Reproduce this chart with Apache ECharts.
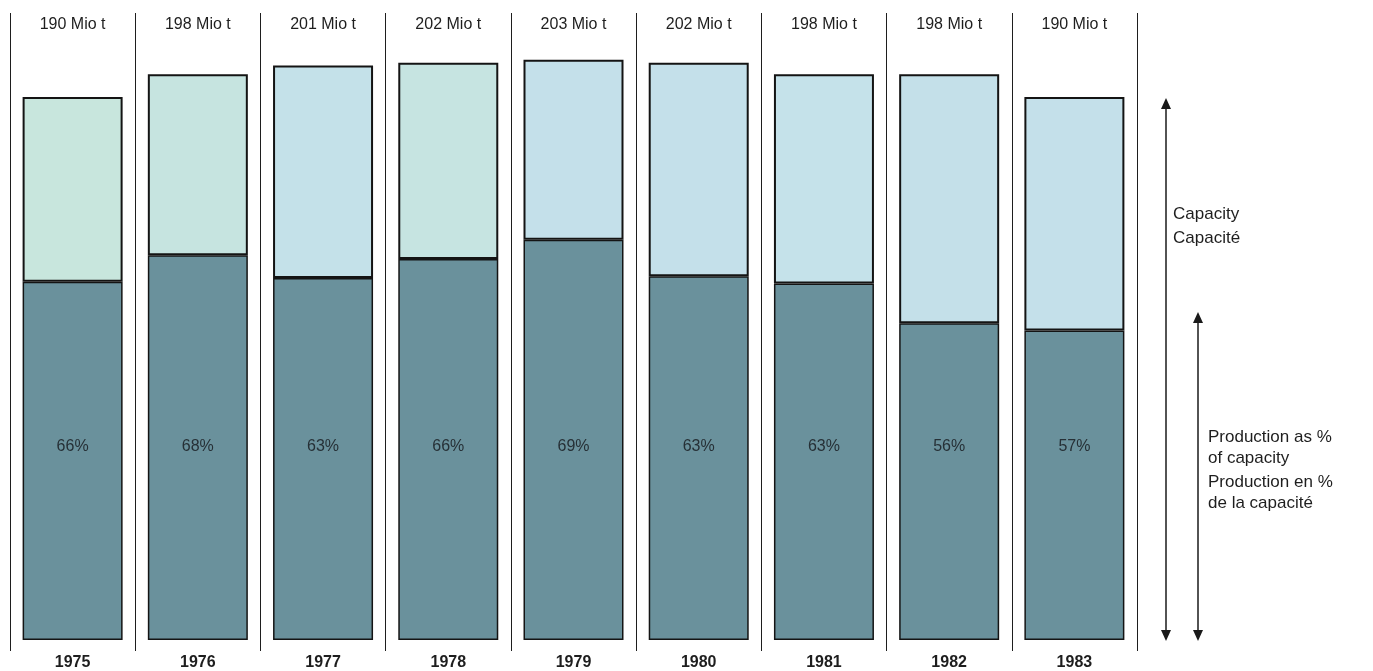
<!DOCTYPE html>
<html>
<head>
<meta charset="utf-8">
<title>Capacity and production</title>
<script src="https://cdn.jsdelivr.net/npm/echarts@6/dist/echarts.min.js"></script>
<style>
  html, body { margin: 0; padding: 0; background: #ffffff; }
  #chart { width: 1373px; height: 671px; }
</style>
</head>
<body>
<div id="chart"></div>
<script>
// Years shown along the bottom
var years = ['1975', '1976', '1977', '1978', '1979', '1980', '1981', '1982', '1983'];
// Capacity in million tonnes (labels above each column)
var capacity = [190, 198, 201, 202, 203, 202, 198, 198, 190];
// Production as percentage of capacity
var utilisation = [66, 68, 63, 66, 69, 63, 63, 56, 57];

// Split each capacity bar into produced part and unused part
var produced = capacity.map(function (c, i) { return c * utilisation[i] / 100; });
var unused = capacity.map(function (c, i) { return c - produced[i]; });
var capacityLabels = capacity.map(function (c) { return c + ' Mio t'; });

// Light tints of the upper (unused) segments
var upperTints = ['#c8e6dd', '#c6e4e0', '#c4e1e9', '#c6e4e1', '#c4e0ea', '#c4e0ea', '#c5e2ea', '#c4e0e9', '#c4e0ea'];

var FONT = '"Liberation Sans", Arial, sans-serif';
var chart = echarts.init(document.getElementById('chart'));

chart.setOption({
  backgroundColor: '#ffffff',
  animation: false,
  grid: { left: 10, right: 236, top: 13, bottom: 19, containLabel: false },
  xAxis: [{
    type: 'category',
    data: years,
    position: 'bottom',
    boundaryGap: true,
    axisLine: { show: false },
    axisTick: { show: false },
    axisLabel: { color: '#1e1e1e', fontFamily: FONT, fontSize: 16, fontWeight: 'bold', margin: 4 },
    splitLine: { show: true, lineStyle: { color: '#1e1e1e', width: 1 } }
  }, {
    type: 'category',
    data: capacityLabels,
    position: 'top',
    boundaryGap: true,
    axisLine: { show: false },
    axisTick: { show: false },
    axisLabel: { inside: true, color: '#1e1e1e', fontFamily: FONT, fontSize: 16, margin: 4 },
    splitLine: { show: false }
  }],
  yAxis: {
    type: 'value',
    min: -3.85,
    max: 219.4,
    show: false,
    splitLine: { show: false }
  },
  series: [{
    name: 'Production',
    type: 'bar',
    stack: 'cap',
    barWidth: 100,
    data: produced,
    itemStyle: { color: '#6a919c', borderColor: '#141414', borderWidth: 1.5 },
    label: {
      show: true,
      position: 'insideBottom',
      distance: 185,
      color: '#263036',
      fontFamily: FONT,
      fontSize: 16,
      formatter: function (p) { return utilisation[p.dataIndex] + '%'; }
    }
  }, {
    name: 'Capacity',
    type: 'bar',
    stack: 'cap',
    barWidth: 100,
    data: unused.map(function (v, i) { return { value: v, itemStyle: { color: upperTints[i] } }; }),
    itemStyle: { borderColor: '#141414', borderWidth: 2 }
  }],
  graphic: [
    // Capacity arrow
    { type: 'line', shape: { x1: 1166, y1: 106, x2: 1166, y2: 634 }, style: { stroke: '#1a1a1a', lineWidth: 1.5 } },
    { type: 'polygon', shape: { points: [[1166, 98], [1161, 109], [1171, 109]] }, style: { fill: '#1a1a1a' } },
    { type: 'polygon', shape: { points: [[1166, 641], [1161, 630], [1171, 630]] }, style: { fill: '#1a1a1a' } },
    // Production arrow
    { type: 'line', shape: { x1: 1198, y1: 320, x2: 1198, y2: 634 }, style: { stroke: '#1a1a1a', lineWidth: 1.5 } },
    { type: 'polygon', shape: { points: [[1198, 312], [1193, 323], [1203, 323]] }, style: { fill: '#1a1a1a' } },
    { type: 'polygon', shape: { points: [[1198, 641], [1193, 630], [1203, 630]] }, style: { fill: '#1a1a1a' } },
    // Captions
    { type: 'text', left: 1173, top: 202, style: { text: 'Capacity\nCapacité', fill: '#1e1e1e', font: '17px ' + FONT, lineHeight: 24 } },
    { type: 'text', left: 1208, top: 427, style: { text: 'Production as %\nof capacity', fill: '#1e1e1e', font: '17px ' + FONT, lineHeight: 21 } },
    { type: 'text', left: 1208, top: 472, style: { text: 'Production en %\nde la capacité', fill: '#1e1e1e', font: '17px ' + FONT, lineHeight: 21 } }
  ]
});
</script>
</body>
</html>
